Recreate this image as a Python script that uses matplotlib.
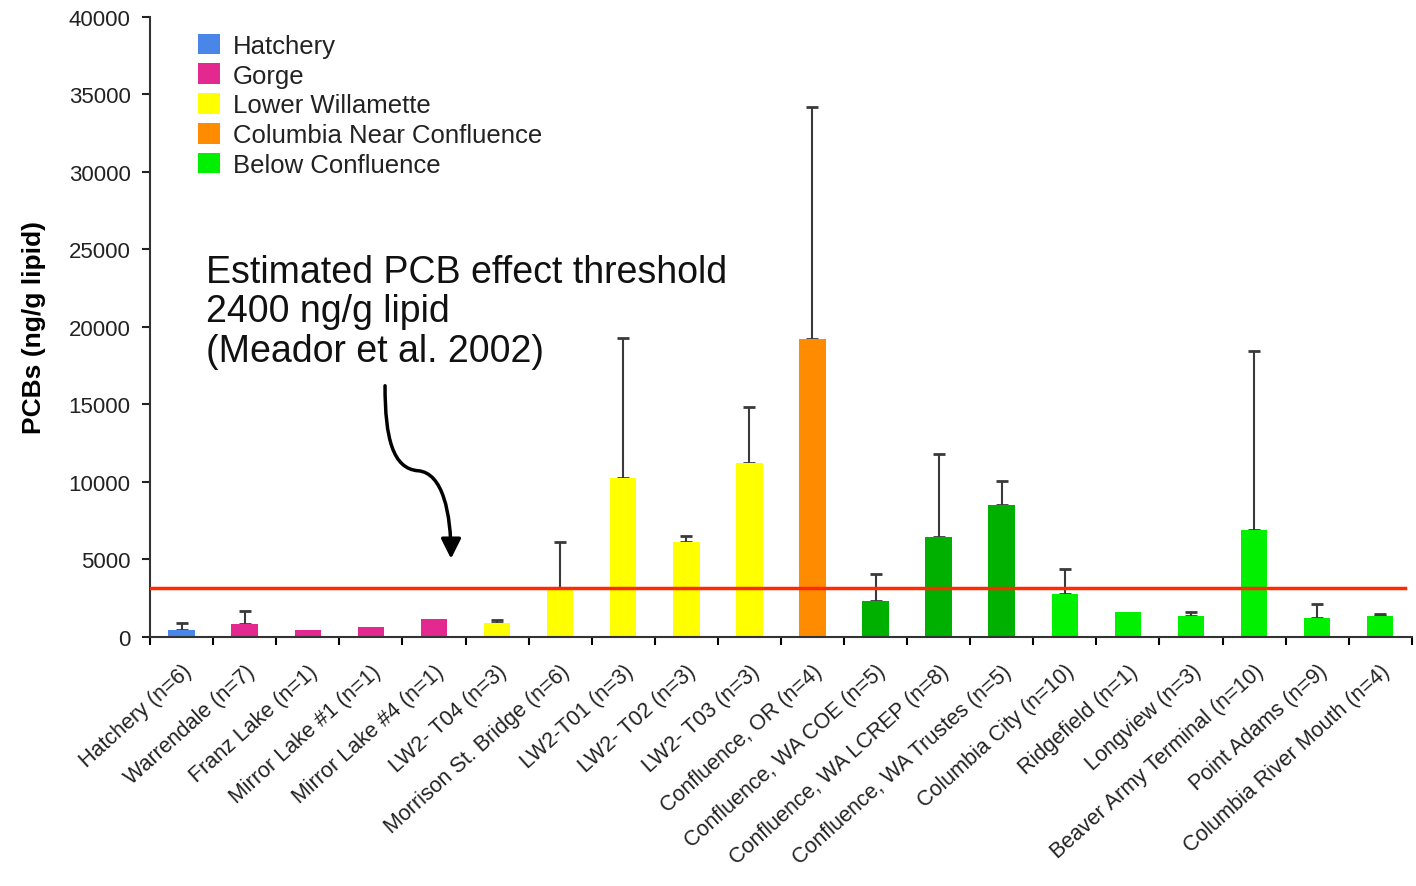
import matplotlib
matplotlib.use("Agg")
import matplotlib.pyplot as plt
import numpy as np
from matplotlib.patches import Patch, FancyArrowPatch
from matplotlib.path import Path

plt.rcParams['font.family'] = ['Liberation Sans', 'DejaVu Sans']

categories = ["Hatchery (n=6)", "Warrendale (n=7)", "Franz Lake (n=1)", "Mirror Lake #1 (n=1)",
              "Mirror Lake #4 (n=1)", "LW2- T04 (n=3)", "Morrison St. Bridge (n=6)", "LW2-T01 (n=3)",
              "LW2- T02 (n=3)", "LW2- T03 (n=3)", "Confluence, OR (n=4)", "Confluence, WA COE (n=5)",
              "Confluence, WA LCREP (n=8)", "Confluence, WA Trustes (n=5)", "Columbia City (n=10)",
              "Ridgefield (n=1)", "Longview (n=3)", "Beaver Army Terminal (n=10)", "Point Adams (n=9)",
              "Columbia River Mouth (n=4)"]
values = [450, 840, 450, 650, 1160, 900, 3100, 10260, 6130, 11230, 19230, 2320, 6450, 8520,
          2770, 1610, 1350, 6900, 1230, 1350]
errors = [450, 840, 0, 0, 0, 200, 3030, 9030, 390, 3610, 14960, 1740, 5350, 1540,
          1620, 0, 260, 11550, 900, 130]
groups = ["Hatchery", "Gorge", "Gorge", "Gorge", "Gorge", "Lower Willamette", "Lower Willamette",
          "Lower Willamette", "Lower Willamette", "Lower Willamette", "Columbia Near Confluence",
          "Below Dark", "Below Dark", "Below Dark", "Below Confluence", "Below Confluence",
          "Below Confluence", "Below Confluence", "Below Confluence", "Below Confluence"]
legend_labels = ["Hatchery", "Gorge", "Lower Willamette", "Columbia Near Confluence", "Below Confluence"]
threshold = 3150

colors = {"Hatchery": "#4a86e8", "Gorge": "#e3288f", "Lower Willamette": "#ffff00",
          "Columbia Near Confluence": "#ff8c00", "Below Confluence": "#00f000",
          "Below Dark": "#00b000"}

fig = plt.figure(figsize=(14.16, 8.87), dpi=100)
ax = fig.add_axes([0.106, 0.281, 0.891, 0.699])
x = np.arange(len(categories))
bar_colors = [colors[g] for g in groups]
ax.bar(x, values, width=0.42, color=bar_colors, zorder=2)
err_mask = np.array(errors) > 0
ax.errorbar(x[err_mask], np.array(values)[err_mask],
            yerr=[np.zeros(err_mask.sum()), np.array(errors)[err_mask]],
            fmt="none", ecolor="#3a3a3a", elinewidth=1.5, capsize=4, capthick=2, zorder=1)

ax.axhline(threshold, xmin=0, xmax=0.995, color="#ff2a00", lw=2.5, zorder=3)

ax.set_xlim(-0.5, len(categories) - 0.5)
ax.set_ylim(0, 40000)
ax.set_yticks(np.arange(0, 40001, 5000))
ax.tick_params(axis="y", labelsize=16, length=6, width=1.5, colors="#222222", direction="out", pad=8)
ax.set_xticks(np.arange(-0.5, len(categories), 1.0))
ax.set_xticklabels([])
ax.set_xticks(x, minor=True)
ax.set_xticklabels(categories, minor=True, rotation=42, ha="right", va="top",
                   rotation_mode="anchor", fontsize=15.5, color="#222222")
ax.tick_params(axis="x", which="major", length=6, width=1.5, direction="out")
ax.tick_params(axis="x", which="minor", length=0, pad=17)
for s in ["top", "right"]:
    ax.spines[s].set_visible(False)
for s in ["left", "bottom"]:
    ax.spines[s].set_linewidth(1.5)
    ax.spines[s].set_color("#333333")

ax.set_ylabel("PCBs (ng/g lipid)", fontsize=19, fontweight="bold", labelpad=16)

handles = [Patch(facecolor=colors[l]) for l in legend_labels]
leg = ax.legend(handles, legend_labels, loc="upper left", bbox_to_anchor=(0.02, 1.01),
                frameon=False, fontsize=18.5, handlelength=0.85, handleheight=0.85,
                handletextpad=0.5, labelspacing=0.22)
for t in leg.get_texts():
    t.set_color("#222222")

ax.text(0.38, 24700, "Estimated PCB effect threshold\n2400 ng/g lipid\n(Meador et al. 2002)",
        fontsize=27, va="top", ha="left", linespacing=1.12, color="#111111")

def px2d(px, py):
    return ((px - 150) / 63.1 - 0.5, (638 - py) / 15.5 * 1000)

verts = [px2d(385, 387), px2d(385, 440), px2d(393, 470), px2d(418, 472),
         px2d(443, 474), px2d(451, 515), px2d(451, 560)]
codes = [Path.MOVETO, Path.CURVE4, Path.CURVE4, Path.CURVE4,
         Path.CURVE4, Path.CURVE4, Path.CURVE4]
path = Path(verts, codes)
arrow = FancyArrowPatch(path=path, arrowstyle="-|>,head_length=10,head_width=5",
                        lw=2.5, color="black", mutation_scale=1.2)
ax.add_patch(arrow)

fig.savefig("out.png", dpi=100)
